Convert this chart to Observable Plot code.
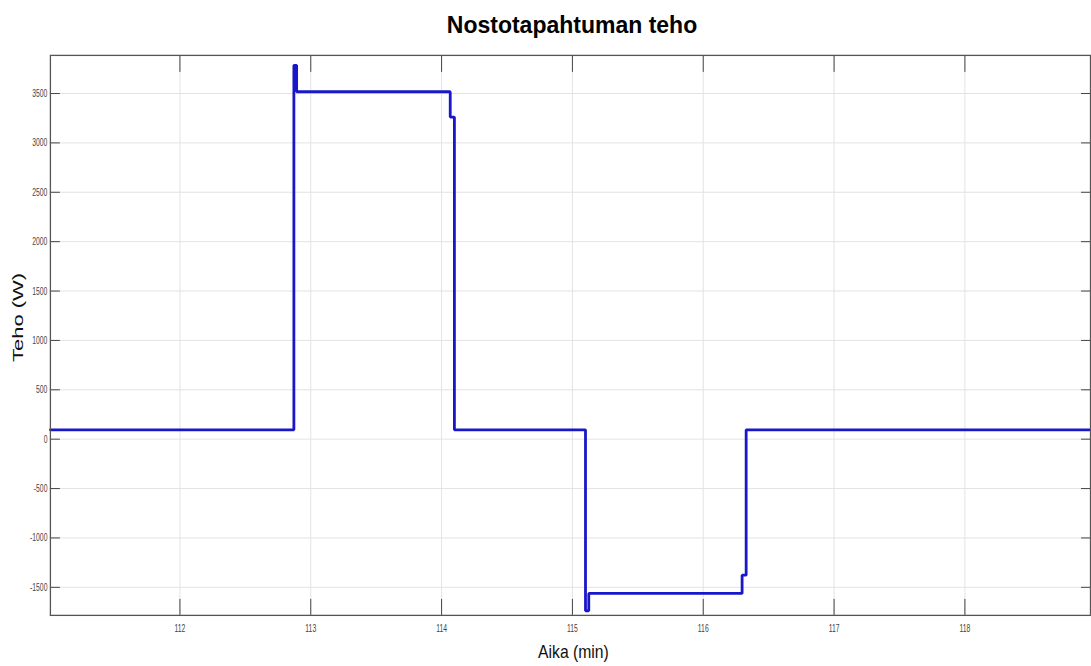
<!DOCTYPE html>
<html>
<head>
<meta charset="utf-8">
<script src="https://cdn.jsdelivr.net/npm/d3@7"></script>
<script src="https://cdn.jsdelivr.net/npm/@observablehq/plot@0.6"></script>
<style>
  html, body { margin: 0; padding: 0; background: #fff; overflow: hidden; }
  #wrap { position: relative; width: 1091px; height: 666px; overflow: hidden; }
  #title { position: absolute; left: 0; top: 10px; width: 1144px; text-align: center;
           font-family: "Liberation Sans", Arial, sans-serif; font-weight: bold; font-size: 23px; color: #000;
           transform: scaleY(1.08); transform-origin: 50% 0; }
</style>
</head>
<body>
<div id="wrap">
  <div id="chart"></div>
  <div id="title">Nostotapahtuman teho</div>
</div>
<script>
// Data (change points of a stepped signal)
const times = [111.01, 112.871, 112.892, 114.066, 114.098, 115.100, 115.125, 116.297, 116.328, 118.96];
const power = [95, 3785, 3518, 3262, 95, -1738, -1562, -1377, 95, 95];
const xTicks = [112, 113, 114, 115, 116, 117, 118];
const yTicks = [-1500, -1000, -500, 0, 500, 1000, 1500, 2000, 2500, 3000, 3500];
const titleText = "Nostotapahtuman teho";
const xLabel = "Aika (min)";
const yLabel = "Teho (W)";

const data = times.map((t, i) => ({t, p: power[i]}));

const axisColor = "#444";
const chart = Plot.plot({
  width: 1093,
  height: 666,
  marginLeft: 50,
  marginRight: 1,
  marginTop: 55,
  marginBottom: 50,
  style: {fontFamily: "'Liberation Sans', Arial, sans-serif", fontSize: "11px", background: "#fff"},
  x: {domain: [111.01, 118.96], axis: null},
  y: {domain: [-1784, 3886], axis: null},
  marks: [
    Plot.gridX(xTicks, {stroke: "#e3e3e3", strokeOpacity: 1}),
    Plot.gridY(yTicks, {stroke: "#e3e3e3", strokeOpacity: 1}),
    Plot.axisX(xTicks, {anchor: "bottom", tickSize: -16, tickPadding: 25, stroke: axisColor, fill: "#444", label: null, tickFormat: d => String(d)}),
    Plot.axisX(xTicks, {anchor: "top", tickSize: -16, stroke: axisColor, label: null, tickFormat: () => ""}),
    Plot.axisY(yTicks, {anchor: "left", tickSize: -10, tickPadding: 13, stroke: axisColor, fill: "#444", label: null, tickFormat: d => String(d)}),
    Plot.axisY(yTicks, {anchor: "right", tickSize: -10, stroke: axisColor, label: null, tickFormat: () => ""}),
    Plot.line(data, {x: "t", y: "p", curve: "step-after", stroke: "#1818c8", strokeWidth: 2.8, strokeLinejoin: "miter"}),
    Plot.frame({stroke: "#555", strokeWidth: 1.3})
  ]
});
document.getElementById("chart").appendChild(chart);
document.getElementById("title").textContent = titleText;

const svg = d3.select(chart);
// condense tick labels horizontally
svg.selectAll('g[aria-label$="tick label"] text').each(function() {
  const tr = this.getAttribute("transform") || "";
  this.setAttribute("transform", tr + " scale(0.62,1)");
});
// axis labels
svg.append("text")
  .attr("transform", "translate(574.5,659) scale(0.83,1)")
  .attr("text-anchor", "middle")
  .style("font-size", "19px").style("fill", "#111")
  .text(xLabel);
svg.append("text")
  .attr("transform", "translate(23,318) rotate(-90) scale(1,0.68)")
  .attr("text-anchor", "middle")
  .style("font-size", "22px").style("fill", "#111")
  .text(yLabel);
</script>
</body>
</html>
